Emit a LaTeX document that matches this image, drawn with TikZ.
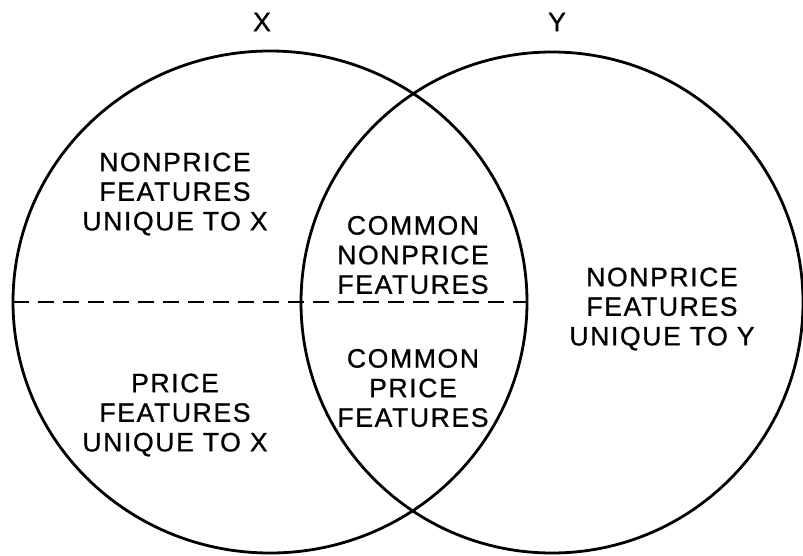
\documentclass[tikz,border=0pt]{standalone}
\usepackage{fontspec}
\newfontfamily\lettering{Liberation Sans}[LetterSpace=6,FakeBold=0.8]
\usepackage{tikz}
\usetikzlibrary{shapes.geometric}
\tikzstyle{set}=[ellipse,draw,line width=1.4pt,inner sep=0,outer sep=0]
\tikzstyle{txt}=[align=center,inner sep=0,font=\lettering\fontsize{13.3}{14.8}\selectfont]

\begin{document}
\begin{tikzpicture}[x=0.5pt,y=-0.5pt]
\useasboundingbox (0,0) rectangle (803,556);

% the two sets
\node[set,minimum width=257pt,minimum height=251pt] (sx) at (270,302) {};
\node[set,minimum width=251pt,minimum height=250.5pt] (sy) at (552,302.5) {};
\node[txt] (lx) at (262,22) {X};
\node[txt] (ly) at (557,22) {Y};

% price / nonprice split
\draw[line width=1.2pt,dash pattern=on 8pt off 4.5pt] (sx.west) -- (sx.east);

\node[txt] (nx) at (175,194) {NONPRICE\\FEATURES\\UNIQUE TO X};
\node[txt] (px) at (175,415) {PRICE\\FEATURES\\UNIQUE TO X};
\node[txt] (cn) at (413,255) {COMMON\\NONPRICE\\FEATURES};
\node[txt] (cp) at (413,388) {COMMON\\PRICE\\FEATURES};
\node[txt] (ny) at (662,309) {NONPRICE\\FEATURES\\UNIQUE TO Y};
\end{tikzpicture}
\end{document}
